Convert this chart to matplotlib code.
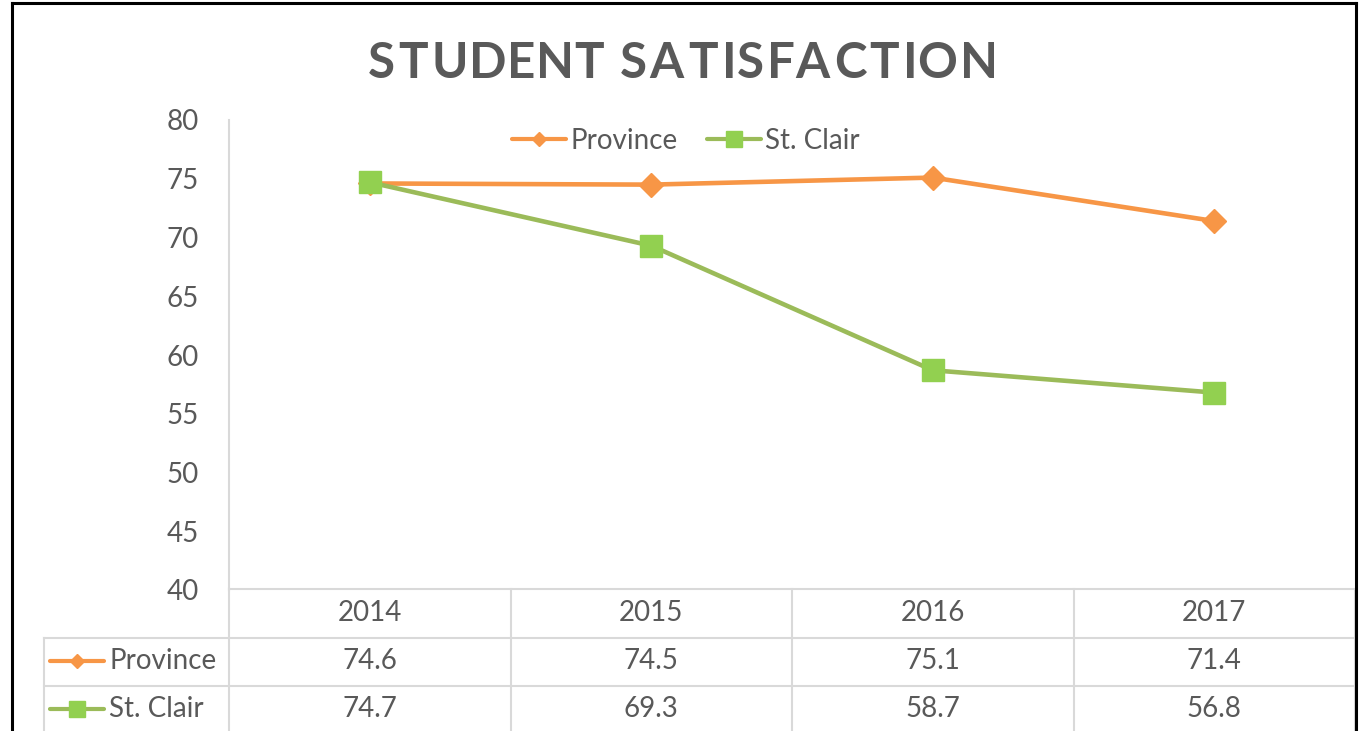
import matplotlib
matplotlib.use("Agg")
import matplotlib.pyplot as plt
from matplotlib.lines import Line2D
from matplotlib.transforms import blended_transform_factory
from matplotlib.textpath import TextPath
from matplotlib.font_manager import FontProperties

# ---- data ----
years = ["2014", "2015", "2016", "2017"]
province = [74.6, 74.5, 75.1, 71.4]
st_clair = [74.7, 69.3, 58.7, 56.8]
series_names = ["Province", "St. Clair"]
yticks = [40, 45, 50, 55, 60, 65, 70, 75, 80]
title = "STUDENT SATISFACTION"

W, H = 1361, 731
FONT = "Lato"
TXT = "#595959"
GRID = "#D9D9D9"
ORANGE = "#F79646"
GREEN_LINE = "#9BBB59"
GREEN_MK = "#92D050"

plt.rcParams["font.family"] = [FONT, "DejaVu Sans"]

fig = plt.figure(figsize=(W / 100, H / 100), dpi=100)
fig.patch.set_facecolor("white")

def fx(px):
    return px / W

def fy(py):
    return 1 - py / H

# plot area in pixels
L, R, T, B = 229, 1355, 120, 590
ax = fig.add_axes([fx(L), fy(B), fx(R) - fx(L), fy(T) - fy(B)])
ax.set_xlim(-0.5, len(years) - 0.5)
ax.set_ylim(40, 80)
ax.set_yticks(yticks)
ax.set_yticklabels([str(v) for v in yticks], fontsize=20, color=TXT)
ax.tick_params(axis="y", length=0, pad=22)
ax.set_xticks([])
for s in ["top", "right", "bottom"]:
    ax.spines[s].set_visible(False)
ax.spines["left"].set_color(GRID)
ax.spines["left"].set_linewidth(1.5)

x = list(range(len(years)))
ax.plot(x, province, color=ORANGE, lw=3.3, marker="D", ms=12,
        mfc=ORANGE, mec=ORANGE, solid_capstyle="round", zorder=3)
ax.plot(x, st_clair, color=GREEN_LINE, lw=3.3, marker="s", ms=15.5,
        mfc=GREEN_MK, mec=GREEN_MK, solid_capstyle="round", zorder=4)

# legend
handles = [
    Line2D([], [], color=ORANGE, lw=3, marker="D", ms=7, mfc=ORANGE, mec=ORANGE,
           solid_capstyle="round"),
    Line2D([], [], color=GREEN_LINE, lw=3, marker="s", ms=11, mfc=GREEN_MK,
           mec=GREEN_MK, solid_capstyle="round"),
]
leg = fig.legend(handles, series_names, loc="center", ncol=2,
                 bbox_to_anchor=(fx(686), fy(141)), frameon=False,
                 fontsize=20, handlelength=1.95, handletextpad=0.15,
                 columnspacing=1.05, borderpad=0)
for t in leg.get_texts():
    t.set_color(TXT)

# title with letter spacing
tsize = 35.5
track = 0.3  # px between letters
fp = FontProperties(family=FONT, weight="bold", size=tsize)
scale = 100 / 72.0
widths = []
bar_w = TextPath((0, 0), "|", prop=fp).get_extents().width
for ch in title:
    if ch == " ":
        w = TextPath((0, 0), "n n", prop=fp).get_extents().width - \
            TextPath((0, 0), "nn", prop=fp).get_extents().width
    else:
        w = TextPath((0, 0), ch + "|", prop=fp).get_extents().width - bar_w
    widths.append(w * scale)
total = sum(widths) + track * (len(title) - 1)
xpos = 683 - total / 2
for ch, w in zip(title, widths):
    if ch != " ":
        fig.text(fx(xpos), fy(64), ch, ha="left", va="center", fontsize=tsize,
                 fontweight="bold", color=TXT)
    xpos += w + track

# ---- data table ----
tr = blended_transform_factory(ax.transData, fig.transFigure)
ftr = fig.transFigure
lw_g = 1.5
row_y = [589, 638, 686]
tbl_left = 44
fig.add_artist(Line2D([fx(L), fx(R)], [fy(row_y[0])] * 2, color=GRID, lw=lw_g, transform=ftr))
for yy in row_y[1:]:
    fig.add_artist(Line2D([fx(tbl_left), fx(R)], [fy(yy)] * 2, color=GRID, lw=lw_g, transform=ftr))
fig.add_artist(Line2D([fx(tbl_left)] * 2, [fy(row_y[1]), 0], color=GRID, lw=lw_g, transform=ftr))
for i in range(len(years) + 1):
    fig.add_artist(Line2D([i - 0.5] * 2, [fy(row_y[0]), 0], color=GRID, lw=lw_g, transform=tr))

for i, yr in enumerate(years):
    fig.text(i, fy(613), yr, transform=tr, ha="center", va="center", fontsize=20, color=TXT)

rows = [province, st_clair]
row_centers = [661, 709]
keys = [
    dict(color=ORANGE, marker="D", ms=7, mfc=ORANGE, mec=ORANGE),
    dict(color=GREEN_LINE, marker="s", ms=11, mfc=GREEN_MK, mec=GREEN_MK),
]
for vals, name, yc, kk in zip(rows, series_names, row_centers, keys):
    fig.add_artist(Line2D([fx(50), fx(104)], [fy(yc)] * 2, lw=3, transform=ftr,
                          solid_capstyle="round", color=kk["color"]))
    fig.add_artist(Line2D([fx(77)], [fy(yc)], lw=0, transform=ftr, marker=kk["marker"],
                          ms=kk["ms"], mfc=kk["mfc"], mec=kk["mec"]))
    fig.text(fx(109), fy(yc), name, ha="left", va="center", fontsize=20, color=TXT)
    for i, v in enumerate(vals):
        fig.text(i, fy(yc), f"{v:.1f}", transform=tr, ha="center", va="center",
                 fontsize=20, color=TXT)

# outer black border (bottom cropped)
bw = 2.2
fig.add_artist(Line2D([fx(12), fx(12)], [0, fy(3)], color="black", lw=bw, transform=ftr))
fig.add_artist(Line2D([fx(12), fx(1356)], [fy(3), fy(3)], color="black", lw=bw, transform=ftr))
fig.add_artist(Line2D([fx(1356), fx(1356)], [fy(3), 0], color="black", lw=bw, transform=ftr))

fig.savefig("out.png", dpi=100, facecolor="white")
